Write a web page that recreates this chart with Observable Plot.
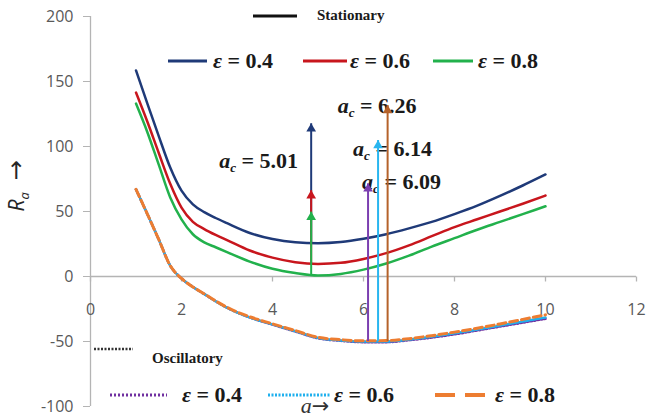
<!DOCTYPE html>
<html><head><meta charset="utf-8">
<script src="https://cdn.jsdelivr.net/npm/d3@7"></script>
<script src="https://cdn.jsdelivr.net/npm/@observablehq/plot@0.6"></script>
<style>
body{margin:0;background:#fff;}
#wrap{position:relative;width:646px;height:419px;overflow:hidden;background:#fff;}
#wrap svg{position:absolute;left:0;top:0;z-index:2;background:transparent !important;}
.lbl{position:absolute;white-space:nowrap;line-height:1;transform:translate(0,-50%);font-family:"Liberation Serif","Times New Roman",serif;font-weight:bold;color:#1a1a1a;z-index:1;}
.lbl sub{font-size:0.6em;vertical-align:-0.35em;font-style:italic;}
.sw{position:absolute;z-index:1;}
g[aria-label^="y-axis"] line, g[aria-label^="y-axis"] path{stroke:#b4b4b4;}
</style></head><body><div id="wrap"></div>
<script>
// ---- data ----
const xTicks = [0, 2, 4, 6, 8, 10, 12];
const yTicks = [-100, -50, 0, 50, 100, 150, 200];
const xGrid = [1, 1.25, 1.5, 1.75, 2, 2.25, 2.5, 2.75, 3, 3.5, 4, 4.5, 5, 5.5, 6, 6.5, 7, 7.5, 8, 8.5, 9, 9.5, 10];
// Stationary
const stat04 = [158.5, 133, 108, 84, 66, 55.5, 49.5, 45, 41, 33.5, 28.8, 26.3, 25.6, 26.5, 29, 32.5, 37, 42, 48, 54.5, 62, 70, 78.5];
const stat06 = [141.5, 119, 95, 71.5, 53, 42, 36.5, 32, 28, 20, 14.5, 11, 9.7, 10.5, 13.5, 18, 24, 31, 38, 44, 50, 56, 62.3];
const stat08 = [133, 111, 86, 61, 44, 32.5, 26.2, 22.5, 18.8, 11.5, 6, 2.7, 0.8, 2, 5.3, 10, 16, 23, 29.5, 36, 42, 48, 54];
// Oscillatory
const osc04 = [67, 48, 28.5, 8.5, -1.5, -8, -13.5, -19, -24, -31.5, -37, -42.3, -47.5, -49.5, -50.5, -50.5, -49, -47, -44.5, -41.5, -38.5, -35.5, -32.5];
const osc06 = [67, 48, 28.5, 8.5, -1.5, -8, -13.5, -19, -24, -31.5, -36.8, -42, -47.2, -49.2, -50, -50, -48.5, -46.3, -43.7, -40.8, -37.7, -34.6, -31.5];
const osc08 = [67, 48, 28.5, 8.5, -1.5, -8, -13.3, -18.8, -23.7, -31, -36.4, -41.6, -46.8, -48.6, -49.5, -49.3, -47.8, -45.5, -42.8, -39.8, -36.5, -33, -29.5];
// critical-point arrows
const statArrowX = [4.85, 4.85, 4.85];
const statArrowBase = [25.8, 10, 1.2];
const statArrowTip = [117.5, 66, 49.5];
const oscArrowX = [6.10, 6.32, 6.53];
const oscArrowBase = [-50, -50, -50];
const oscArrowTip = [71.3, 104.6, 131.5];
const acValues = ["5.01", "6.09", "6.14", "6.26"];
const epsLabels = ["0.4", "0.6", "0.8"];
const yTitle = "Ra →";

// ---- styles ----
const cStat = ["#1f3a78", "#c8161d", "#22b14c"];
const cOscArrow = ["#7b3fb0", "#29b6ef", "#b5622a"];
const cOsc = ["#7030a0", "#1fb0ee", "#ed7d31"];
const gray = "#b4b4b4";

const toRows = (ys) => xGrid.map((x, i) => ({x, y: ys[i]}));
const arrows = (xs, b, t, cols) => xs.map((x, i) => ({x, y1: b[i], y2: t[i], c: cols[i]}));
const statArr = arrows(statArrowX, statArrowBase, statArrowTip, cStat);
const oscArr = arrows(oscArrowX, oscArrowBase, oscArrowTip, cOscArrow);

const tickSym = {draw(ctx) { ctx.moveTo(0, 0); ctx.lineTo(0, 5); }};
const crv = "monotone-x";

const plot = Plot.plot({
  width: 646, height: 419,
  marginLeft: 90, marginRight: 10, marginTop: 16, marginBottom: 13,
  style: {fontFamily: "'Open Sans', sans-serif", fontSize: "16px", color: "#595959", background: "transparent"},
  x: {domain: [0, 12], axis: null},
  y: {domain: [-100, 200], ticks: yTicks, tickSize: 7, tickPadding: 10, label: null, line: false, tickFormat: d => d},
  marks: [
    Plot.ruleX([0], {stroke: gray, strokeWidth: 1.3}),
    Plot.ruleY([0], {stroke: gray, strokeWidth: 1.3}),
    Plot.dot(xTicks, {x: d => d, y: 0, symbol: tickSym, stroke: gray, fill: "none", strokeWidth: 1.3}),
    Plot.text(xTicks, {x: d => d, y: 0, dy: 33, text: d => String(d), fill: "#595959", fontSize: 16}),
    Plot.text([yTitle], {frameAnchor: "left", dx: -73, rotate: -90, text: d => d, fill: "#262626", fontSize: 21}),
    // stationary
    Plot.line(toRows(stat04), {x: "x", y: "y", stroke: cStat[0], strokeWidth: 2.5, curve: crv}),
    Plot.line(toRows(stat06), {x: "x", y: "y", stroke: cStat[1], strokeWidth: 2.5, curve: crv}),
    Plot.line(toRows(stat08), {x: "x", y: "y", stroke: cStat[2], strokeWidth: 2.5, curve: crv}),
    // oscillatory
    Plot.line(toRows(osc04), {x: "x", y: "y", stroke: cOsc[0], strokeWidth: 2.5, strokeDasharray: "1.5,2", curve: crv}),
    Plot.line(toRows(osc06), {x: "x", y: "y", stroke: cOsc[1], strokeWidth: 2.5, strokeDasharray: "2,1.5", curve: crv}),
    Plot.line(toRows(osc08), {x: "x", y: "y", stroke: cOsc[2], strokeWidth: 3, strokeDasharray: "8,4", curve: crv}),
    // arrows
    Plot.ruleX(statArr, {x: "x", y1: "y1", y2: "y2", stroke: "c", strokeWidth: 2}),
    Plot.dot(statArr, {x: "x", y: "y2", symbol: "triangle", r: 3.6, fill: "c", stroke: "none", dy: 5}),
    Plot.ruleX(oscArr, {x: "x", y1: "y1", y2: "y2", stroke: "c", strokeWidth: 2}),
    Plot.dot(oscArr, {x: "x", y: "y2", symbol: "triangle", r: 3.6, fill: "c", stroke: "none", dy: 5})
  ]
});

// y title: R with subscript a, then a large arrow
d3.select(plot).selectAll("text").filter(function () { return this.textContent === yTitle; }).each(function () {
  const t = d3.select(this).text(null);
  t.append("tspan").attr("font-style", "italic").text("R");
  t.append("tspan").attr("font-style", "italic").attr("font-size", 13).attr("dy", 5).text("a");
  t.append("tspan").attr("dy", -5).attr("dx", 12).attr("font-family", "'DejaVu Sans', sans-serif").attr("font-size", 24).text("→");
});

const wrap = document.getElementById("wrap");
wrap.appendChild(plot);
const xs = plot.scale("x"), ys = plot.scale("y");
const X = v => xs.apply(v), Y = v => ys.apply(v);

function label(html, left, top, opts = {}) {
  const d = document.createElement("div");
  d.className = "lbl";
  d.innerHTML = html;
  d.style.left = left + "px";
  d.style.top = top + "px";
  d.style.fontSize = (opts.size || 22) + "px";
  if (opts.center) d.style.transform = "translate(-50%,-50%)";
  if (opts.font) d.style.fontFamily = opts.font;
  if (opts.weight) d.style.fontWeight = opts.weight;
  if (opts.color) d.style.color = opts.color;
  wrap.appendChild(d);
  return d;
}
function swatch(x1, x2, y, color, width, dash) {
  const s = d3.create("svg").attr("class", "sw").attr("width", x2 - x1).attr("height", 8)
    .style("left", x1 + "px").style("top", (y - 4) + "px");
  s.append("line").attr("x1", 0).attr("x2", x2 - x1).attr("y1", 4).attr("y2", 4)
    .attr("stroke", color).attr("stroke-width", width).attr("stroke-dasharray", dash || null);
  wrap.appendChild(s.node());
}
const eps = v => `<i>ε</i> = ${v}`;
const ac = v => `<i>a</i><sub>c</sub> = ${v}`;

// stationary legend
swatch(253, 297, 16, "#111", 3);
label("Stationary", 317, 15, {size: 15});
swatch(168, 207, 61, cStat[0], 3); label(eps(epsLabels[0]), 213, 61);
swatch(303, 347, 61, cStat[1], 3); label(eps(epsLabels[1]), 350, 61);
swatch(433, 473, 61, cStat[2], 3); label(eps(epsLabels[2]), 478, 61);
// oscillatory legend
swatch(94, 133, 349, "#333", 2.5, "2,1.5");
label("Oscillatory", 152, 358, {size: 15});
swatch(110, 167, 395, cOsc[0], 3, "2,2"); label(eps(epsLabels[0]), 182, 395);
swatch(268, 330, 395, cOsc[1], 3, "2,1.5"); label(eps(epsLabels[1]), 334, 395);
swatch(435, 485, 395, cOsc[2], 4, "20,10"); label(eps(epsLabels[2]), 495, 395);

// critical wavenumber labels, anchored to arrow tips
label(ac(acValues[0]), X(statArrowX[0]) - 52, Y(statArrowTip[0]) + 39, {center: true});
label(ac(acValues[3]), X(oscArrowX[2]) - 10, Y(oscArrowTip[2]) + 2, {center: true});
label(ac(acValues[2]), X(oscArrowX[1]) + 15, Y(oscArrowTip[1]) + 10, {center: true});
label(ac(acValues[1]), X(oscArrowX[0]) + 34, Y(oscArrowTip[0]) + 0, {center: true});

// x title
label(`<i>a</i><span style="font-family:'DejaVu Sans',sans-serif;font-size:0.95em">→</span>`, 315, 406, {center: true, size: 22, weight: "normal", color: "#333"});
</script>
</body></html>
